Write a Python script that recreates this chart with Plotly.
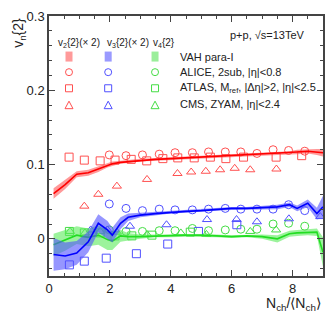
import plotly.graph_objects as go

# VAH para-I model curves (central value and band half-width)
vah_x = [0.15, 0.53, 0.91, 1.29, 1.62, 1.92, 2.08, 2.35, 2.6, 3.0, 3.5, 4.0, 4.5, 5.0,
         5.5, 6.0, 6.5, 7.0, 7.5, 7.9, 8.15, 8.5, 8.8, 9.0]
vah_v2 = [0.061, 0.073, 0.087, 0.089, 0.094, 0.099, 0.101, 0.103, 0.104, 0.106, 0.107, 0.108,
          0.109, 0.110, 0.111, 0.112, 0.113, 0.114, 0.115, 0.116, 0.117, 0.118, 0.117, 0.116]
vah_v2_err = [0.007, 0.006, 0.004, 0.004, 0.004, 0.003, 0.003, 0.002, 0.002, 0.002, 0.002, 0.002,
              0.002, 0.002, 0.002, 0.002, 0.002, 0.002, 0.002, 0.002, 0.003, 0.003, 0.004, 0.005]
vah_v3 = [-0.021, -0.023, -0.019, -0.004, 0.021, 0.012, 0.005, 0.021, 0.029, 0.032, 0.034, 0.036,
          0.037, 0.038, 0.040, 0.041, 0.041, 0.042, 0.043, 0.046, 0.041, 0.048, 0.034, 0.043]
vah_v3_err = [0.022, 0.018, 0.016, 0.014, 0.012, 0.012, 0.010, 0.008, 0.005, 0.003, 0.002, 0.002,
              0.002, 0.002, 0.002, 0.002, 0.002, 0.002, 0.003, 0.003, 0.004, 0.005, 0.008, 0.015]
vah_v4 = [-0.008, -0.002, 0.005, 0.002, 0.005, -0.001, -0.003, 0.004, 0.003, 0.003, 0.004, 0.004,
          0.005, 0.005, 0.004, 0.003, 0.004, 0.003, 0.000, 0.007, 0.008, 0.009, 0.009, -0.018]
vah_v4_err = [0.015, 0.014, 0.012, 0.012, 0.013, 0.014, 0.012, 0.008, 0.005, 0.003, 0.002, 0.002,
              0.002, 0.002, 0.002, 0.002, 0.002, 0.003, 0.005, 0.004, 0.004, 0.004, 0.005, 0.020]

# ALICE, 2sub
alice_x = [1.98, 2.53, 3.07, 3.62, 4.14, 4.71, 5.24, 5.79, 6.30, 6.83, 7.36, 7.87, 8.40]
alice_v2 = [0.113, 0.112, 0.113, 0.114, 0.116, 0.116, 0.117, 0.117, 0.117, 0.115, 0.120, 0.119, 0.118]
alice_v3 = [0.047, 0.041, 0.038, 0.040, 0.039, 0.039, 0.040, 0.041, 0.040, 0.040, 0.040, 0.046, 0.038]
alice_v4 = [0.012, 0.010, 0.010, 0.011, 0.011, 0.014, 0.011, 0.012, 0.013, 0.013, 0.020, 0.021, 0.017]

# ATLAS, template
atlas_v2_x = [0.66, 1.16, 1.68, 2.17, 2.70, 3.21, 3.74, 4.23, 4.77, 5.30, 5.81, 6.39, 7.46, 8.30]
atlas_v2 = [0.110, 0.106, 0.105, 0.106, 0.107, 0.105, 0.108, 0.109, 0.109, 0.110, 0.108, 0.110, 0.110, 0.112]
atlas_v3_x = [0.67, 1.16, 1.88, 2.87, 3.90, 4.91, 6.17]
atlas_v3 = [-0.035, -0.030, -0.026, -0.020, -0.007, 0.010, 0.019]
atlas_v4_x = [0.67, 1.16, 1.68, 2.17, 2.72, 3.38, 4.64]
atlas_v4 = [0.010, 0.008, 0.008, 0.004, 0.004, 0.005, 0.009]

# CMS, ZYAM
cms_v2_x = [1.16, 1.62, 2.23, 3.22, 4.22, 4.67, 5.15, 5.62, 6.10, 6.61, 7.47]
cms_v2 = [0.044, 0.060, 0.071, 0.080, 0.088, 0.090, 0.091, 0.093, 0.095, 0.093, 0.094]
cms_v3_x = [1.37, 1.92, 2.66, 3.86, 5.19, 6.16, 6.83, 7.88, 8.91]
cms_v3 = [0.012, 0.012, 0.017, 0.019, 0.026, 0.026, 0.023, 0.027, 0.030]
cms_v4_x = [0.69, 1.18, 1.68, 2.23, 3.22, 4.33, 5.17, 6.61, 7.46]
cms_v4 = [0.010, 0.008, 0.010, 0.009, 0.006, 0.008, 0.006, 0.010, 0.012]

line_col = {"v2": "#ff0000", "v3": "#0000ff", "v4": "#22dd22"}
band_col = {"v2": "rgba(255,70,70,0.55)", "v3": "rgba(80,80,255,0.6)", "v4": "rgba(90,235,90,0.6)"}
mark_col = {"v2": "#ff5050", "v3": "#5050ff", "v4": "#44dd44"}

fig = go.Figure()


def add_band(key, y, err):
    hi = [a + e for a, e in zip(y, err)]
    lo = [a - e for a, e in zip(y, err)]
    fig.add_trace(go.Scatter(x=vah_x + vah_x[::-1], y=hi + lo[::-1], fill="toself",
                             fillcolor=band_col[key], line=dict(width=0), mode="lines",
                             hoverinfo="skip", showlegend=False))
    fig.add_trace(go.Scatter(x=vah_x, y=y, mode="lines", line=dict(color=line_col[key], width=1.6),
                             showlegend=False))


def add_points(key, x, y, symbol):
    fig.add_trace(go.Scatter(x=x, y=y, mode="markers", showlegend=False,
                             marker=dict(symbol=symbol, size=8, color=mark_col[key],
                                         line=dict(color=mark_col[key], width=1))))


for key, xs, ys in [("v2", alice_x, alice_v2), ("v3", alice_x, alice_v3), ("v4", alice_x, alice_v4)]:
    add_points(key, xs, ys, "circle-open")
for key, xs, ys in [("v2", atlas_v2_x, atlas_v2), ("v3", atlas_v3_x, atlas_v3), ("v4", atlas_v4_x, atlas_v4)]:
    add_points(key, xs, ys, "square-open")
for key, xs, ys in [("v2", cms_v2_x, cms_v2), ("v3", cms_v3_x, cms_v3), ("v4", cms_v4_x, cms_v4)]:
    add_points(key, xs, ys, "triangle-up-open")

add_band("v4", vah_v4, vah_v4_err)
add_band("v3", vah_v3, vah_v3_err)
add_band("v2", vah_v2, vah_v2_err)

# hand-made legend: symbols as shapes, texts as annotations
legend_cols = [("v2", 0.073), ("v3", 0.216), ("v4", 0.387)]
legend_fill = {"v2": "#ff9a9a", "v3": "#9a9aff", "v4": "#9aee9a"}
shapes = []
for key, px in legend_cols:
    c = mark_col[key]
    common = dict(xref="paper", yref="paper", xsizemode="pixel", ysizemode="pixel", xanchor=px)
    shapes.append(dict(type="rect", yanchor=0.844, x0=-3.5, x1=3.5, y0=-5, y1=5,
                       fillcolor=legend_fill[key], line=dict(width=0), **common))
    shapes.append(dict(type="circle", yanchor=0.784, x0=-3.5, x1=3.5, y0=-3.5, y1=3.5,
                       line=dict(color=c, width=1), **common))
    shapes.append(dict(type="rect", yanchor=0.722, x0=-3.5, x1=3.5, y0=-3.5, y1=3.5,
                       line=dict(color=c, width=1), **common))
    shapes.append(dict(type="path", yanchor=0.657, path="M-4,-3.5 L4,-3.5 L0,4 Z",
                       line=dict(color=c, width=1), **common))

font = dict(family="Liberation Sans, Arial", color="#222")
annotations = [
    dict(x=0.024, y=0.896, text="v<sub>2</sub>{2}(× 2)"),
    dict(x=0.203, y=0.896, text="v<sub>3</sub>{2}(× 2)"),
    dict(x=0.372, y=0.896, text="v<sub>4</sub>{2}"),
]
for a in annotations:
    a.update(xref="paper", yref="paper", xanchor="left", yanchor="middle", showarrow=False,
             font=dict(size=10, **font))
labels = ["VAH para-I", "ALICE, 2sub, |η|<0.8", "ATLAS, M<sub>ref</sub>, |Δη|>2, |η|<2.5",
          "CMS, ZYAM, |η|<2.4"]
for txt, yy in zip(labels, [0.842, 0.784, 0.722, 0.662]):
    annotations.append(dict(x=0.471, y=yy, text=txt, xref="paper", yref="paper", xanchor="left",
                            yanchor="middle", showarrow=False, font=dict(size=11, **font)))
annotations.append(dict(x=0.94, y=0.925, text="p+p, √s=13TeV", xref="paper", yref="paper",
                        xanchor="right", yanchor="middle", showarrow=False, font=dict(size=11, **font)))
annotations.append(dict(x=-0.11, y=1.0, text="v<sub>n</sub>{2}", textangle=-90, xref="paper",
                        yref="paper", xanchor="center", yanchor="top", showarrow=False,
                        font=dict(size=14, **font)))
annotations.append(dict(x=1.0, y=-0.106, text="N<sub>ch</sub>/⟨N<sub>ch</sub>⟩", xref="paper",
                        yref="paper", xanchor="right", yanchor="middle", showarrow=False,
                        font=dict(size=14, **font)))

axis_common = dict(showgrid=False, zeroline=False, showline=True, linecolor="#444", linewidth=1.5,
                   mirror="allticks", ticks="inside", ticklen=6, tickcolor="#444", tickwidth=1,
                   automargin=False, tickfont=dict(size=13, **font))
fig.update_layout(
    width=333, height=322,
    margin=dict(l=41, r=18, t=8, b=54),
    plot_bgcolor="white", paper_bgcolor="white",
    xaxis=dict(range=[0, 9], tickvals=[0, 2, 4, 6, 8],
               minor=dict(dtick=0.5, ticks="inside", ticklen=3, tickcolor="#444"), **axis_common),
    yaxis=dict(range=[-0.05, 0.3], tickvals=[0, 0.1, 0.2, 0.3], ticktext=["0", "0.1", "0.2", "0.3"],
               minor=dict(dtick=0.02, ticks="inside", ticklen=3, tickcolor="#444"), **axis_common),
    shapes=shapes, annotations=annotations,
)

fig.write_html("out.html")
